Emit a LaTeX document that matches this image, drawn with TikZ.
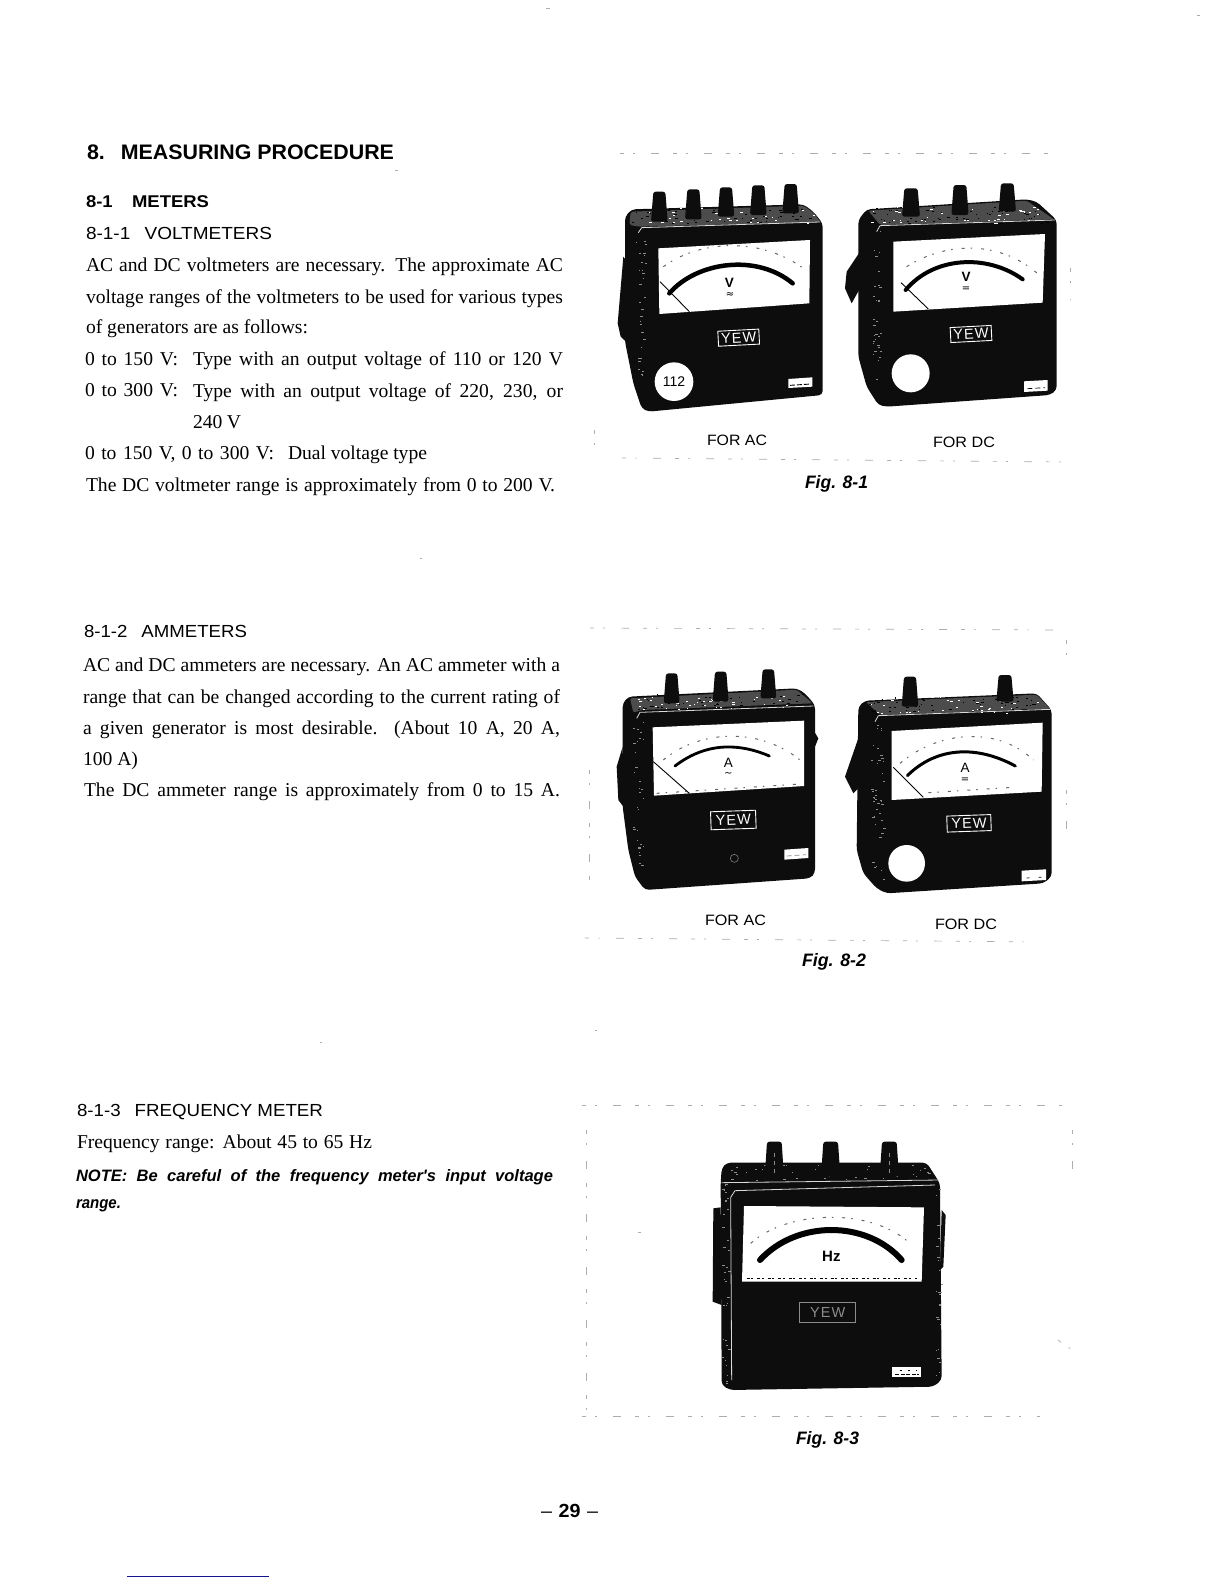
\documentclass[tikz,border=0pt]{standalone}
\usepackage{fontspec}
\usepackage{graphicx}
\setmainfont{Liberation Serif}
\newfontfamily\hs{Liberation Sans}
\newfontfamily\djv{DejaVu Sans}
\definecolor{ink}{gray}{0.05}
\definecolor{mott}{gray}{0.55}
\definecolor{topgray}{gray}{0.30}
\definecolor{scan}{gray}{0.68}
\definecolor{navyline}{RGB}{20,20,140}
\newcounter{nd}
\tikzset{
  txt/.style={anchor=base west,inner sep=0pt,outer sep=0pt,text=black},
  ctr/.style={anchor=center,inner sep=0pt,outer sep=0pt},
  scanline/.style={draw=scan,line width=0.7pt,dash pattern=on 4pt off 9pt on 2pt off 16pt on 8pt off 14pt},
  scale marks/.style={draw=black!60,line width=1pt,dash pattern=on 3pt off 6pt on 1.5pt off 9pt},
  meterbody/.style={fill=ink,draw=none,rounded corners=4pt},
  topface/.style={fill=topgray,draw=none,rounded corners=2pt},
  dialface/.style={fill=white,draw=none},
  needle/.style={draw=black,line width=0.9pt},
  arcband/.style={draw=black,line cap=round},
  yewbox/.style={draw=white,line width=0.9pt,fill=ink,text=white,inner sep=0pt,font=\hs\addfontfeature{LetterSpace=8}\fontsize{14.5}{15}\selectfont},
  plate/.style={fill=white,draw=none},
  edge/.style={draw=white!85!black,line width=0.8pt}
}
% body text line, spaces stretched to the measured width
\newcommand\bl[4]{\stepcounter{nd}\node[txt] (t\arabic{nd}) at (#1,#2)
  {\fontsize{19.6}{22}\selectfont\makebox[#3pt][s]{#4}};}
% line scaled horizontally to the measured width
\newcommand\hd[5]{\stepcounter{nd}\node[txt] (t\arabic{nd}) at (#1,#2)
  {\resizebox{#3pt}{\height}{#4{}#5}};}
\newcommand\knob[4]{% cx top bottom halfwidth
  \fill[ink,rounded corners=2.5pt] ({#1-#4},{#2}) -- ({#1+#4},{#2}) -- ({#1+#4+7},{#3}) -- ({#1-#4-7},{#3}) -- cycle;}
\newcommand\specks[6]{% x0 y0 x1 y1 n colour
  \foreach \i in {1,...,#5}{
    \pgfmathsetmacro\px{#1+rnd*(#3-#1)}
    \pgfmathsetmacro\py{#2+rnd*(#4-#2)}
    \pgfmathsetmacro\pw{2+rnd*7}
    \fill[#6] (\px,\py) rectangle ++(\pw,3);}}
\newcommand\mk[5]{% x y font colour text
  \stepcounter{nd}\node[ctr,text=#4] (m\arabic{nd}) at (#1,#2) {#3#5};}
\newcommand\yew[7]{% x y w h rot colour text
  \stepcounter{nd}\node[yewbox,minimum width=#3pt,minimum height=#4pt,rotate=#5,draw=#6,text=#6] (y\arabic{nd}) at (#1,#2) {#7};}
\begin{document}
\begin{tikzpicture}[x=1pt,y=-1pt]
\useasboundingbox (0,0) rectangle (1224,1584);
\fill[white] (0,0) rectangle (1224,1584);
\pgfmathsetseed{4711}

% ---------- left column text ----------
\hd{87}{160}{307}{\hs\bfseries\fontsize{21}{24}\selectfont}{8.\hspace{0.75em}MEASURING PROCEDURE}
\hd{86}{207}{123}{\hs\bfseries\fontsize{17}{20}\selectfont}{8-1\hspace{1.05em}METERS}
\hd{86}{239}{186}{\hs\fontsize{17.5}{20}\selectfont}{8-1-1\hspace{0.75em}VOLTMETERS}
\bl{86}{271}{477}{AC and DC voltmeters are necessary. The approximate AC}
\bl{86}{303}{477}{voltage ranges of the voltmeters to be used for various types}
\bl{86}{333}{222}{of generators are as follows:}
\bl{85}{365}{93}{0 to 150 V:}
\bl{193}{365}{370}{Type with an output voltage of 110 or 120 V}
\bl{85}{396}{93}{0 to 300 V:}
\bl{193}{397}{370}{Type with an output voltage of 220, 230, or}
\bl{193}{428}{48}{240 V}
\bl{85}{459}{189}{0 to 150 V, 0 to 300 V:}
\bl{288}{459}{139}{Dual voltage type}
\bl{86}{491}{469}{The DC voltmeter range is approximately from 0 to 200 V.}

\hd{84}{637}{163}{\hs\fontsize{17.5}{20}\selectfont}{8-1-2\hspace{0.75em}AMMETERS}
\bl{83}{671}{477}{AC and DC ammeters are necessary. An AC ammeter with a}
\bl{83}{703}{477}{range that can be changed according to the current rating of}
\bl{83}{734}{477}{a given generator is most desirable. (About 10 A, 20 A,}
\bl{83}{765}{55}{100 A)}
\bl{84}{796}{476}{The DC ammeter range is approximately from 0 to 15 A.}

\hd{77}{1116}{246}{\hs\fontsize{17.5}{20}\selectfont}{8-1-3\hspace{0.75em}FREQUENCY METER}
\bl{77}{1148}{295}{Frequency range: About 45 to 65 Hz}
\stepcounter{nd}\node[txt] (t\arabic{nd}) at (76,1181) {\hs\itshape\bfseries\fontsize{16.5}{20}\selectfont\makebox[477pt][s]{NOTE: Be careful of the frequency meter's input voltage}};
\hd{76}{1208}{45}{\hs\itshape\bfseries\fontsize{16.5}{20}\selectfont}{range.}

\hd{541}{1517}{57}{\hs\bfseries\fontsize{19}{22}\selectfont}{{\mdseries\textendash}\,\,29\,\,{\mdseries\textendash}}
\coordinate (bl1) at (127,1576);
\coordinate (bl2) at (269,1576);
\draw[navyline,line width=1pt] (bl1) -- (bl2);

% ---------- captions ----------
\hd{707}{445}{60}{\hs\fontsize{15}{18}\selectfont}{FOR AC}
\hd{933}{447}{62}{\hs\fontsize{15}{18}\selectfont}{FOR DC}
\hd{805}{488}{63}{\hs\itshape\bfseries\fontsize{18}{20}\selectfont}{Fig. 8-1}
\hd{705}{925}{61}{\hs\fontsize{15}{18}\selectfont}{FOR AC}
\hd{935}{929}{62}{\hs\fontsize{15}{18}\selectfont}{FOR DC}
\hd{802}{966}{64}{\hs\itshape\bfseries\fontsize{18}{20}\selectfont}{Fig. 8-2}
\hd{796}{1444}{63}{\hs\itshape\bfseries\fontsize{18}{20}\selectfont}{Fig. 8-3}

% ---------- scan residue round the figures ----------
\draw[scanline] (620,153) -- (1052,153);
\draw[scanline] (622,458) -- (1065,462);
\draw[scanline] (590,628) -- (1060,630);
\draw[scanline] (585,938) -- (1040,942);
\draw[scanline] (582,1105) -- (1062,1105);
\draw[scanline] (582,1416) -- (1040,1416);
\draw[scanline] (586,1130) -- (586,1410);
\draw[scanline] (594,430) -- (594,456);
\draw[scanline] (589,770) -- (589,880);
\draw[scanline] (1066,640) -- (1066,660);
\draw[scanline] (1066,790) -- (1066,830);
\draw[scanline] (1070,268) -- (1070,300);
\draw[scanline] (1072,1130) -- (1072,1178);
\draw[scanline] (1058,1340) -- (1075,1352);

% ---------- Fig 8-1 ----------
\begin{scope}[shift={(600,160)},x=0.33333pt,y=-0.33333pt]
 % AC voltmeter
 \fill[ink] (70,290) -- (85,310) -- (78,545) -- (62,530) -- (53,490) -- cycle;
 \fill[meterbody] (75,170) -- (95,148) -- (610,133) -- (640,155) -- (668,190) -- (668,705) -- (145,755) -- (125,745) -- (100,670) -- (75,545) -- cycle;
 \fill[topface] (92,155) -- (610,137) -- (640,158) -- (662,186) -- (118,200) -- (88,195) -- cycle;
 \specks{95}{145}{640}{190}{60}{black}
 \specks{95}{145}{640}{190}{40}{white}
 \specks{108}{220}{135}{690}{30}{mott}
 \draw[edge] (115,218) -- (125,203) -- (660,186);
 \knob{178}{95}{185}{18}\knob{280}{88}{178}{18}\knob{378}{82}{170}{18}\knob{475}{76}{165}{18}\knob{572}{72}{160}{18}
 \fill[dialface] (175,265) -- (630,240) -- (628,430) -- (178,462) -- cycle;
 \draw[scale marks] (190,320) .. controls (300,240) and (480,230) .. (610,325);
 \draw[arcband,line width=4.5pt] (208,400) .. controls (290,305) and (470,280) .. (578,370);
 \draw[needle] (180,365) -- (268,455);
 \mk{388}{368}{\hs\bfseries\fontsize{13.5}{14}\selectfont}{black}{V}
 \mk{390}{406}{\djv\fontsize{10}{10}\selectfont}{black}{≈}
 \yew{416}{533}{41}{15}{3}{white}{YEW}
 \fill[white] (222,665) circle (58);
 \mk{222}{665}{\hs\fontsize{14}{14}\selectfont}{black}{112}
 \fill[plate] (565,657) -- (637,652) -- (637,680) -- (565,684) -- cycle;
 \draw[black,line width=0.9pt,dash pattern=on 5pt off 2pt] (570,676) -- (633,672);
 % DC voltmeter
 \fill[ink] (740,335) -- (790,260) -- (805,290) -- (805,340) -- (755,430) -- (735,385) -- cycle;
 \fill[meterbody] (775,180) -- (800,148) -- (1280,118) -- (1310,125) -- (1370,180) -- (1370,690) -- (1350,705) -- (860,740) -- (835,735) -- (800,680) -- (775,590) -- cycle;
 \fill[topface] (805,152) -- (1280,122) -- (1362,178) -- (840,195) -- cycle;
 \specks{810}{140}{1340}{190}{60}{black}
 \specks{810}{140}{1340}{190}{40}{white}
 \specks{815}{200}{840}{680}{30}{mott}
 \draw[edge] (830,215) -- (840,197) -- (1365,180);
 \knob{933}{85}{170}{20}\knob{1080}{75}{165}{19}\knob{1222}{70}{155}{19}
 \fill[dialface] (880,245) -- (1335,222) -- (1328,428) -- (880,455) -- cycle;
 \draw[scale marks] (920,320) .. controls (1030,250) and (1190,235) .. (1312,340);
 \draw[arcband,line width=4pt] (917,390) .. controls (1000,290) and (1160,280) .. (1268,358);
 \draw[needle] (903,368) -- (985,447);
 \mk{1098}{352}{\hs\bfseries\fontsize{13.5}{14}\selectfont}{black}{V}
 \mk{1098}{388}{\djv\fontsize{10}{10}\selectfont}{black}{=}
 \yew{1113}{522}{41}{15}{3}{white}{YEW}
 \fill[white] (932,640) circle (57);
 \fill[plate] (1272,664) -- (1343,660) -- (1343,692) -- (1272,696) -- cycle;
 \draw[black,line width=0.7pt,dash pattern=on 5pt off 3pt] (1282,686) -- (1335,683);
\end{scope}

% ---------- Fig 8-2 ----------
\begin{scope}[shift={(600,650)},x=0.33333pt,y=-0.33333pt]
 % AC ammeter
 \fill[ink] (50,350) -- (68,290) -- (70,470) -- (55,450) -- cycle;
 \fill[ink] (640,240) -- (655,265) -- (645,290) -- cycle;
 \fill[meterbody] (68,160) -- (85,140) -- (590,115) -- (615,130) -- (645,165) -- (645,670) -- (630,685) -- (135,720) -- (105,680) -- (85,600) -- (68,470) -- cycle;
 \fill[topface] (90,145) -- (590,119) -- (638,160) -- (125,180) -- (100,188) -- cycle;
 \specks{95}{130}{620}{178}{60}{black}
 \specks{95}{130}{620}{178}{40}{white}
 \specks{98}{210}{130}{650}{30}{mott}
 \draw[edge] (110,205) -- (120,187) -- (640,168);
 \knob{215}{70}{160}{17}\knob{362}{65}{155}{17}\knob{505}{58}{145}{17}
 \fill[dialface] (158,232) -- (612,212) -- (612,408) -- (162,437) -- cycle;
 \draw[scale marks] (190,330) .. controls (290,245) and (470,225) .. (600,330);
 \draw[scale marks] (170,430) -- (600,402);
 \draw[arcband,line width=2.8pt] (225,348) .. controls (320,275) and (420,280) .. (508,318);
 \draw[needle] (160,335) -- (268,430);
 \mk{385}{340}{\hs\fontsize{13.5}{14}\selectfont}{black}{A}
 \mk{385}{372}{\djv\fontsize{10}{10}\selectfont}{black}{∼}
 \yew{400}{510}{45}{18}{2}{white}{YEW}
 \draw[mott,line width=0.5pt] (403,625) circle (12);
 \fill[plate] (553,599) -- (625,594) -- (625,624) -- (553,629) -- cycle;
 \draw[mott,line width=0.7pt,dash pattern=on 5pt off 3pt] (560,618) -- (618,614);
 % DC ammeter
 \fill[ink] (735,380) -- (780,250) -- (810,290) -- (805,345) -- (780,410) -- (760,430) -- cycle;
 \fill[meterbody] (775,170) -- (795,152) -- (1310,130) -- (1355,180) -- (1355,680) -- (1330,700) -- (860,730) -- (830,715) -- (790,670) -- (770,600) -- cycle;
 \fill[topface] (798,156) -- (1310,134) -- (1350,176) -- (840,195) -- cycle;
 \specks{805}{140}{1330}{190}{60}{black}
 \specks{805}{140}{1330}{190}{40}{white}
 \specks{812}{210}{850}{690}{40}{mott}
 \draw[edge] (825,215) -- (835,197) -- (1350,178);
 \knob{930}{80}{170}{18}\knob{1215}{75}{155}{19}
 \fill[dialface] (875,243) -- (1328,218) -- (1325,425) -- (875,450) -- cycle;
 \draw[scale marks] (900,340) .. controls (1010,245) and (1190,225) .. (1300,330);
 \draw[scale marks] (985,428) -- (1240,412);
 \draw[arcband,line width=3pt] (922,377) .. controls (1010,290) and (1130,285) .. (1246,348);
 \draw[needle] (880,352) -- (970,442);
 \mk{1095}{355}{\hs\fontsize{13.5}{14}\selectfont}{black}{A}
 \mk{1095}{390}{\djv\fontsize{10}{10}\selectfont}{black}{=}
 \yew{1107}{520}{44}{16}{2}{white}{YEW}
 \fill[white] (920,640) circle (55);
 \fill[plate] (1265,662) -- (1338,658) -- (1338,690) -- (1265,694) -- cycle;
 \draw[black,line width=0.7pt,dash pattern=on 3pt off 9pt] (1280,684) -- (1330,681);
\end{scope}

% ---------- Fig 8-3 ----------
\begin{scope}[shift={(680,1120)},x=0.33333pt,y=-0.33333pt]
 \fill[ink] (100,265) -- (122,262) -- (125,555) -- (98,545) -- cycle;
 \fill[ink] (785,270) -- (797,285) -- (790,440) -- (780,450) -- cycle;
 \fill[meterbody] (122,190) -- (125,145) -- (140,128) -- (740,128) -- (780,190) -- (785,780) -- (760,800) -- (150,810) -- (125,795) -- cycle;
 \specks{130}{132}{750}{180}{35}{mott}
 \specks{125}{190}{145}{790}{35}{mott}
 \specks{765}{190}{782}{780}{25}{mott}
 \draw[edge] (125,188) -- (778,180);
 \draw[edge] (155,780) -- (152,232) -- (165,212) -- (765,195);
 \knob{283}{65}{175}{22}\knob{452}{65}{170}{22}\knob{628}{65}{170}{22}
 \draw[mott,line width=0.8pt,dash pattern=on 4pt off 4pt] (283,100) -- (283,170);
 \draw[mott,line width=0.8pt,dash pattern=on 4pt off 4pt] (628,100) -- (628,170);
 \fill[dialface] (192,258) -- (732,262) -- (725,485) -- (186,485) -- cycle;
 \draw[scale marks] (212,370) .. controls (320,270) and (580,260) .. (695,375);
 \draw[arcband,line width=6pt] (240,420) .. controls (350,300) and (560,300) .. (665,420);
 \mk{454}{408}{\hs\bfseries\fontsize{15}{15}\selectfont}{black}{Hz}
 \draw[black,line width=1.6pt,dash pattern=on 3pt off 1.5pt on 2pt off 4pt] (200,476) -- (710,476);
 \yew{443}{576}{56}{20}{0}{mott}{YEW}
 \fill[plate] (637,740) rectangle (722,772);
 \draw[black,line width=0.8pt,dash pattern=on 4pt off 1.5pt] (645,762) -- (716,762);
 \draw[black,line width=0.8pt,dash pattern=on 2pt off 6pt] (660,750) -- (710,750);
\end{scope}

% ---------- stray marks of the scan ----------
\fill[scan] (546,8) rectangle ++(4,1);
\fill[scan] (1197,15) rectangle ++(3,1);
\fill[scan] (395,170) rectangle ++(3,1);
\fill[scan] (420,558) rectangle ++(2,1);
\fill[scan] (320,1042) rectangle ++(2,1);
\fill[scan] (595,1030) rectangle ++(2,1);
\fill[scan] (638,1232) rectangle ++(3,1);
\end{tikzpicture}
\end{document}
